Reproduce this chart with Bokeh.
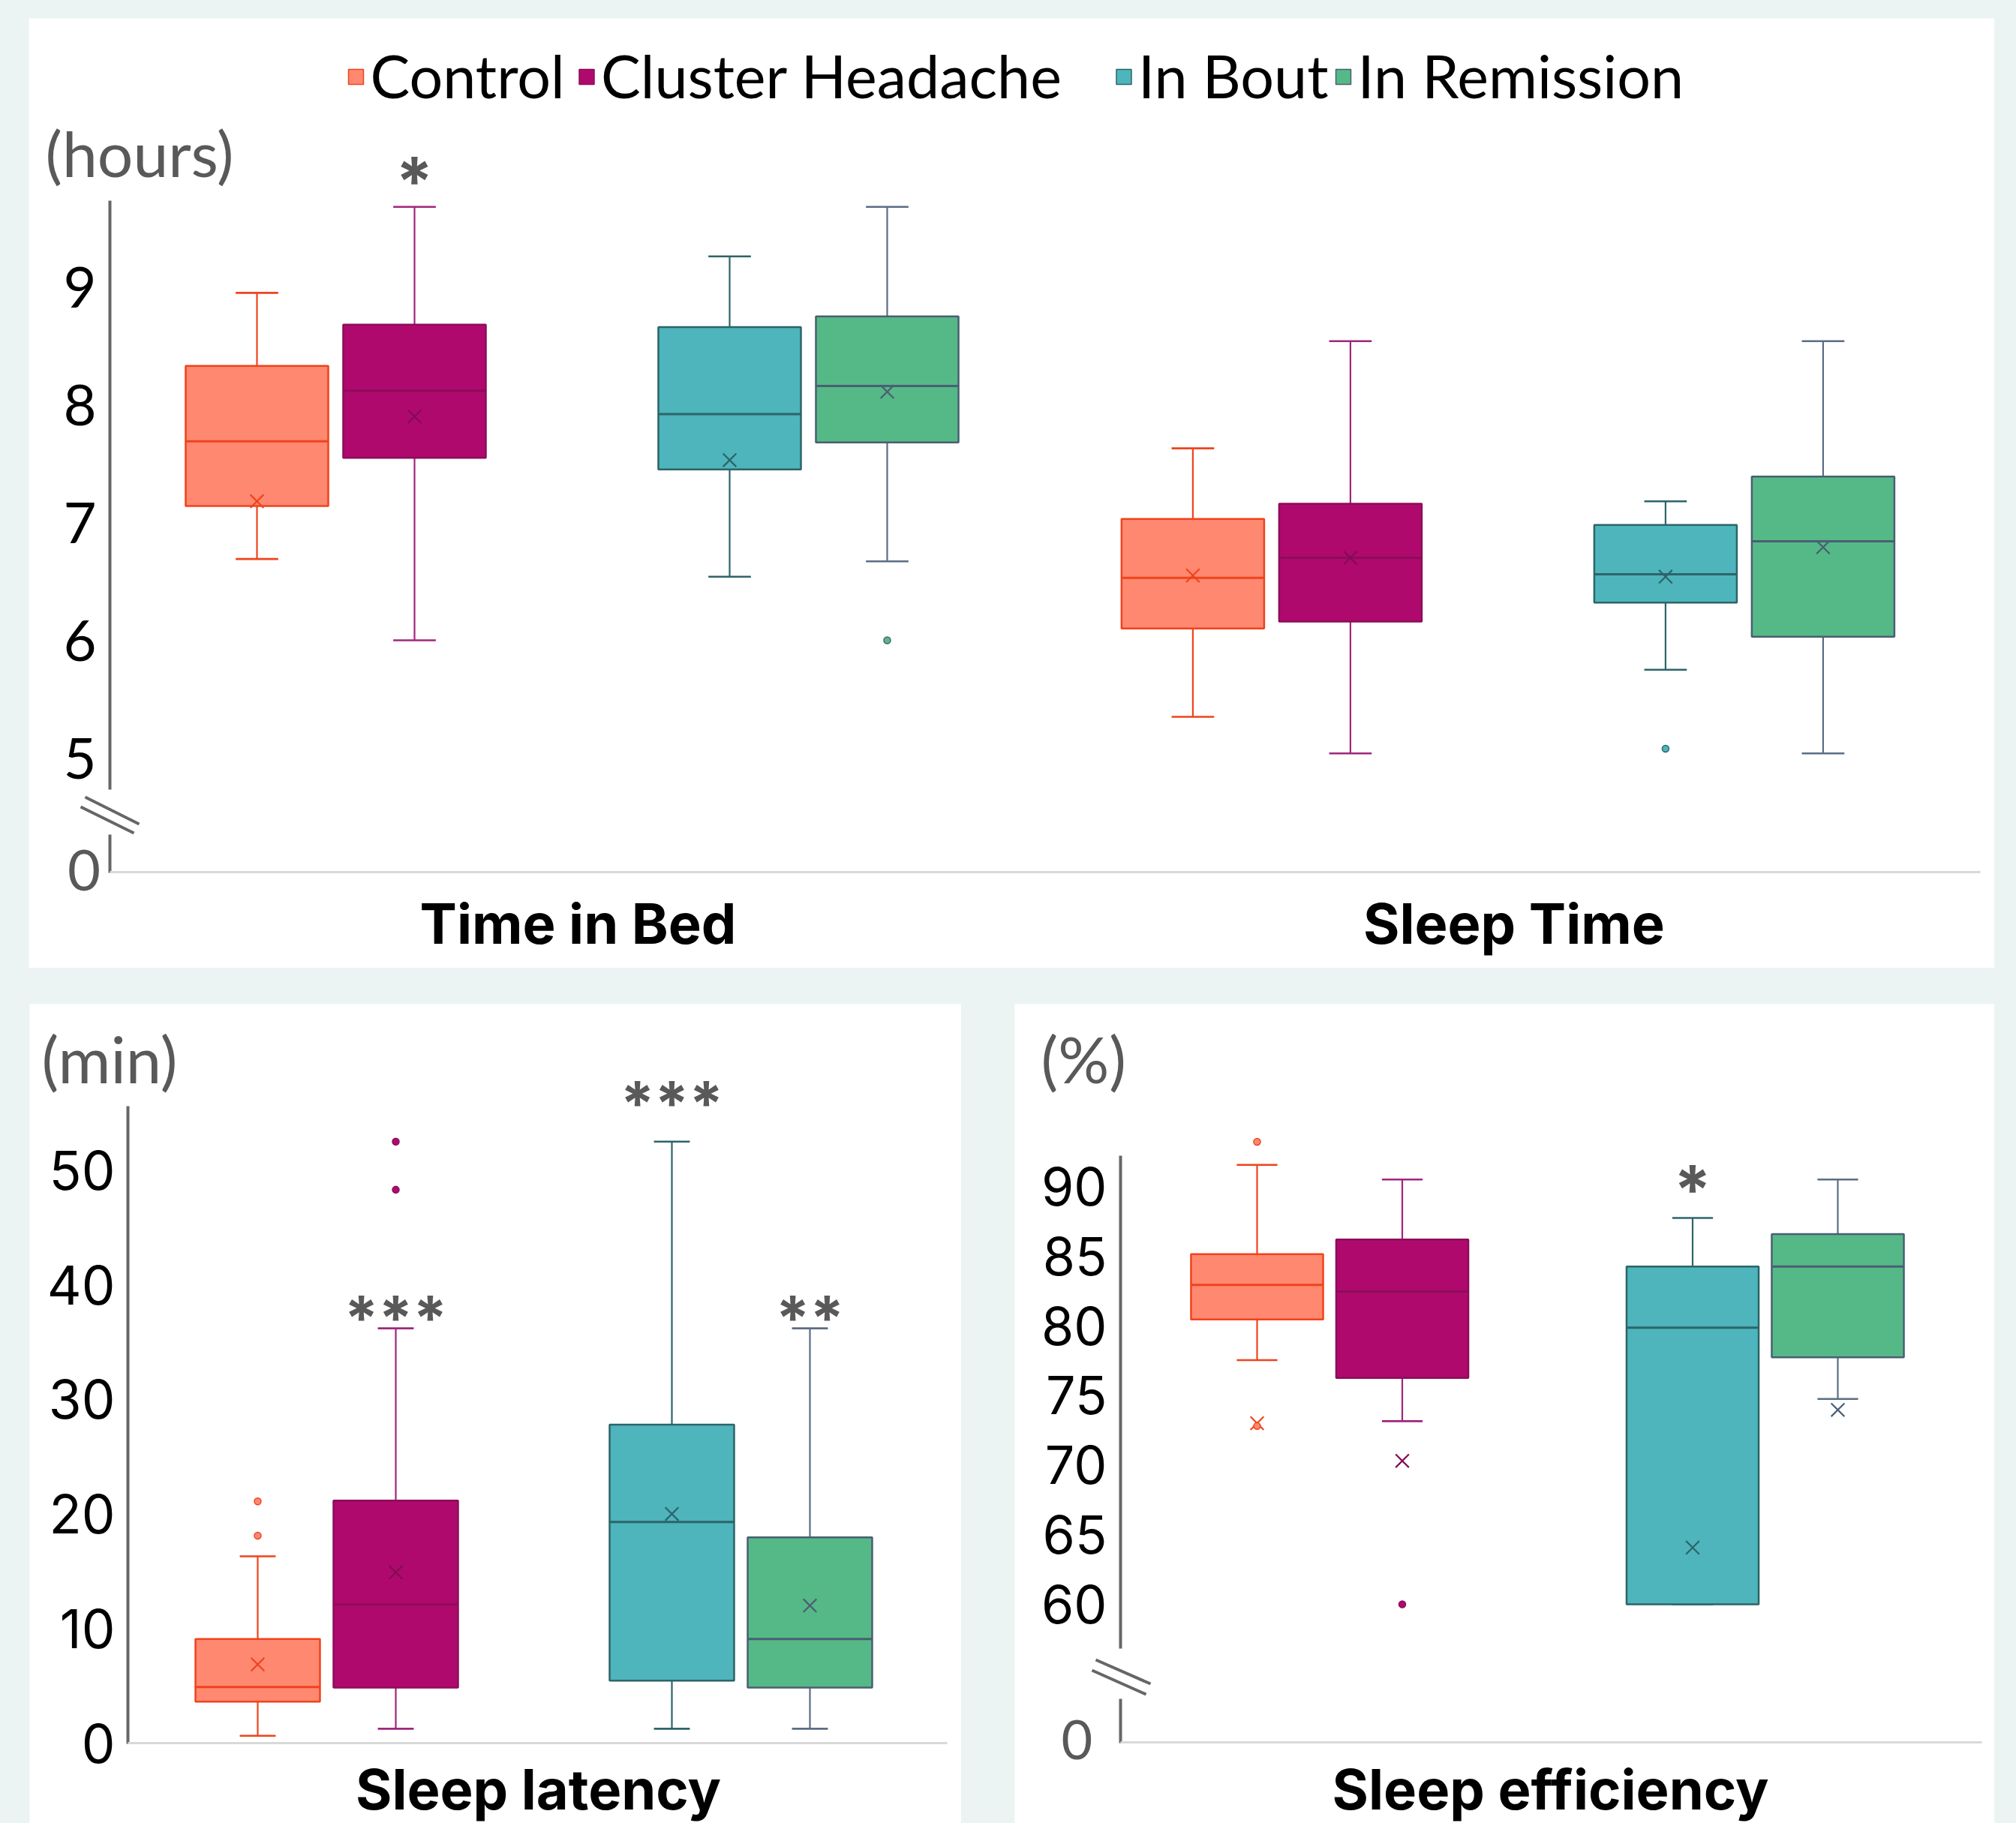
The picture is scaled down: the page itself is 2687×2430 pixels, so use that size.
from bokeh.plotting import figure
from bokeh.models import Range1d, ColumnDataSource
from bokeh.layouts import column, row
from bokeh.embed import file_html
from bokeh.resources import INLINE
from bokeh.core.properties import value

# ---------------- data ----------------
series = ["Control", "Cluster Headache", "In Bout", "In Remission"]
top_metrics = ["Time in Bed", "Sleep Time"]

tib_low  = [6.69, 6.00, 6.54, 6.67]
tib_q1   = [7.14, 7.55, 7.45, 7.68]
tib_med  = [7.69, 8.12, 7.92, 8.16]
tib_q3   = [8.33, 8.68, 8.66, 8.75]
tib_high = [8.95, 9.68, 9.26, 9.68]
tib_mean = [7.18, 7.90, 7.53, 8.11]
tib_out_series = ["In Remission"]
tib_out_vals   = [6.00]

st_low  = [5.35, 5.04, 5.75, 5.04]
st_q1   = [6.10, 6.16, 6.32, 6.03]
st_med  = [6.53, 6.70, 6.56, 6.84]
st_q3   = [7.03, 7.16, 6.98, 7.39]
st_high = [7.63, 8.54, 7.18, 8.54]
st_mean = [6.55, 6.70, 6.54, 6.79]
st_out_series = ["In Bout"]
st_out_vals   = [5.08]

sl_low  = [0.64, 1.25, 1.25, 1.25]
sl_q1   = [3.61, 4.85, 5.45, 4.85]
sl_med  = [4.89, 12.1, 19.3, 9.08]
sl_q3   = [9.08, 21.17, 27.8, 17.96]
sl_high = [16.3, 36.2, 52.5, 36.2]
sl_mean = [6.87, 14.9, 20.0, 12.0]
sl_out_series = ["Control", "Control", "Cluster Headache", "Cluster Headache"]
sl_out_vals   = [18.1, 21.1, 48.3, 52.5]

se_low  = [77.53, 73.15, 60.0, 74.74]
se_q1   = [80.45, 76.25, 60.0, 77.73]
se_med  = [82.93, 82.46, 79.86, 84.25]
se_q3   = [85.14, 86.19, 84.25, 86.58]
se_high = [91.55, 90.5, 87.74, 90.5]
se_mean = [73.0, 70.3, 64.07, 73.96]
se_out_series = ["Control", "Control", "Cluster Headache"]
se_out_vals   = [93.2, 72.8, 60.0]

hours_ticks = [5, 6, 7, 8, 9]
min_ticks = [0, 10, 20, 30, 40, 50]
pct_ticks = [60, 65, 70, 75, 80, 85, 90]

# significance markers: (metric index, series, text, y-value of mark centre)
tib_sig = [(0, "Cluster Headache", "*", 10.01)]
sl_sig = [(0, "Cluster Headache", "***", 38.1), (0, "In Bout", "***", 56.8), (0, "In Remission", "**", 38.1)]
se_sig = [(0, "In Bout", "*", 90.7)]

# ---------------- styles ----------------
FILLS = ["#FF8870", "#B0096E", "#4DB5BB", "#55B987"]
EDGES = ["#F0431C", "#8C0D5A", "#2D6468", "#4A5F73"]
WHISK = ["#F0431C", "#A0267E", "#2D6468", "#5C6D84"]
MEANC = ["#F0431C", "#820C55", "#2D6468", "#4A5F73"]
SLOTS = [0, 1, 3, 4]
GRAY = "#595959"
AXC = "#666666"
BASEC = "#D9D9D9"
BG = "#EBF4F2"
REG = "Lato"
BOLD = "Inter"


def make_panel(ox, oy, W, H, slot, cx0, ppu, vref, yref):
    xr = Range1d((ox - cx0) / slot, (ox + W - cx0) / slot)
    yr = Range1d(vref - (oy + H - yref) / ppu, vref + (yref - oy) / ppu)
    p = figure(width=W, height=H, x_range=xr, y_range=yr, output_backend="svg", title=None,
               toolbar_location=None, x_axis_location=None, y_axis_location=None,
               min_border_left=0, min_border_right=0, min_border_top=0, min_border_bottom=0,
               outline_line_color=None, background_fill_color="white", border_fill_color="white")
    p.xgrid.visible = False
    p.ygrid.visible = False
    X = lambda fx: (fx - cx0) / slot
    Y = lambda fy: vref + (yref - fy) / ppu
    return p, X, Y


def txt(p, xs, ys, texts, font, size, color, align="left", style="normal"):
    p.text(x=xs, y=ys, text=texts, text_font=value(font), text_font_size=value(f"{size}px"),
           text_font_style=value(style), text_color=value(color), text_align=value(align),
           text_baseline=value("middle"))


def seg(p, x0, y0, x1, y1, color, width):
    p.segment(x0=x0, y0=y0, x1=x1, y1=y1, line_color=color, line_width=width)


def draw_boxes(p, base, low, q1, med, q3, high, mean, out_series, out_vals, bw, cw):
    xs = [base + s for s in SLOTS]
    src = ColumnDataSource(dict(
        x=xs, low=low, q1=q1, med=med, q3=q3, high=high, mean=mean,
        l=[x - bw / 2 for x in xs], r=[x + bw / 2 for x in xs],
        cl=[x - cw / 2 for x in xs], cr=[x + cw / 2 for x in xs],
        fill=FILLS, edge=EDGES, wk=WHISK, mc=MEANC))
    p.segment(x0="x", y0="q3", x1="x", y1="high", source=src, line_color="wk", line_width=2.2)
    p.segment(x0="x", y0="low", x1="x", y1="q1", source=src, line_color="wk", line_width=2.2)
    p.segment(x0="cl", y0="high", x1="cr", y1="high", source=src, line_color="wk", line_width=2.6)
    p.segment(x0="cl", y0="low", x1="cr", y1="low", source=src, line_color="wk", line_width=2.6)
    p.quad(left="l", right="r", bottom="q1", top="q3", source=src,
           fill_color="fill", line_color="edge", line_width=2.5)
    p.segment(x0="l", y0="med", x1="r", y1="med", source=src, line_color="edge", line_width=3)
    p.scatter(x="x", y="mean", source=src, marker="x", size=25, line_color="mc", line_width=2.2)
    idx = [series.index(s) for s in out_series]
    p.scatter(x=[xs[i] for i in idx], y=out_vals, marker="circle", size=9,
              fill_color=[FILLS[i] for i in idx], line_color=[EDGES[i] for i in idx], line_width=1.5)
    return xs


def sig_marks(p, Y, marks, group_step, size):
    px = Y(0) - Y(1)  # value units per pixel
    for (m, s, t, yv) in marks:
        x = m * group_step + SLOTS[series.index(s)]
        y = yv - 0.19 * size * px   # glyph sits above the em middle
        txt(p, [x], [y], [t], BOLD, size, GRAY, align="center", style="bold")


# ================= TOP PANEL =================
T_OX, T_OY, T_W, T_H = 38, 24, 2620, 1266
T_SLOT, T_PPU = 210, 157.0
T_STEP = 5.94
top, X, Y = make_panel(T_OX, T_OY, T_W, T_H, T_SLOT, 342, T_PPU, 5, 1010)

ax = X(146)
seg(top, [ax], [Y(267)], [ax], [Y(1052)], AXC, 4)
seg(top, [ax], [Y(1112)], [ax], [Y(1163)], AXC, 4)
seg(top, [X(113), X(107)], [Y(1062), Y(1075)], [X(185), X(178)], [Y(1098), Y(1110)], AXC, 4)
seg(top, [ax], [Y(1162)], [X(2639)], [Y(1162)], BASEC, 3)

draw_boxes(top, 0, tib_low, tib_q1, tib_med, tib_q3, tib_high, tib_mean,
           tib_out_series, tib_out_vals, 0.905, 0.27)
draw_boxes(top, T_STEP, st_low, st_q1, st_med, st_q3, st_high, st_mean,
           st_out_series, st_out_vals, 0.905, 0.27)

txt(top, [X(128)] * len(hours_ticks), hours_ticks,
    [str(t) for t in hours_ticks], REG, 76, "#000000", align="right")
txt(top, [X(111.5)], [Y(1159)], ["0"], REG, 76, GRAY, align="center")
txt(top, [X(60)], [Y(203)], ["(hours)"], REG, 84, GRAY)

txt(top, [m * T_STEP + 2.0 + 8 / T_SLOT for m in range(len(top_metrics))], [Y(1230)] * 2, top_metrics,
    BOLD, 74, "#000000", align="center", style="bold")

sig_marks(top, Y, tib_sig, T_STEP, 90)

leg_sq = [474, 781.5, 1497.5, 1790]
top.scatter(x=[X(v) for v in leg_sq], y=[Y(102)] * 4, marker="square", size=20,
            fill_color=FILLS, line_color=EDGES, line_width=1.5)
txt(top, [X(v + 19) for v in leg_sq], [Y(100)] * 4, series, REG, 79, "#000000")

# ================= BOTTOM LEFT =================
L_OX, L_OY, L_W, L_H = 39, 1338, 1242, 1092
L_PPU = 15.272
bl, X, Y = make_panel(L_OX, L_OY, L_W, L_H, 184, 343, L_PPU, 0, 2323)
ax = X(170)
seg(bl, [ax], [Y(1474)], [ax], [Y(2324)], AXC, 4)
seg(bl, [ax], [Y(2323)], [X(1262)], [Y(2323)], BASEC, 3)
draw_boxes(bl, 0, sl_low, sl_q1, sl_med, sl_q3, sl_high, sl_mean,
           sl_out_series, sl_out_vals, 0.902, 0.26)
txt(bl, [X(153)] * len(min_ticks), min_ticks,
    [str(t) for t in min_ticks], BOLD, 71, "#000000", align="right")
txt(bl, [X(55)], [Y(1410)], ["(min)"], REG, 85, GRAY)
txt(bl, [2.0 + 6 / 184], [Y(2384)], ["Sleep latency"], BOLD, 74, "#000000", align="center", style="bold")
sig_marks(bl, Y, sl_sig, 0, 82)

# ================= BOTTOM RIGHT =================
R_OX, R_OY, R_W, R_H = 1352, 1338, 1306, 1092
R_PPU = 18.567
br, X, Y = make_panel(R_OX, R_OY, R_W, R_H, 193.5, 1675, R_PPU, 60, 2138)
ax = X(1493)
seg(br, [ax], [Y(1540)], [ax], [Y(2197)], AXC, 4)
seg(br, [ax], [Y(2264)], [ax], [Y(2323)], AXC, 4)
seg(br, [X(1460), X(1455)], [Y(2212), Y(2226)], [X(1533), X(1527)], [Y(2244), Y(2258)], AXC, 4)
seg(br, [ax], [Y(2322)], [X(2641)], [Y(2322)], BASEC, 3)
draw_boxes(br, 0, se_low, se_q1, se_med, se_q3, se_high, se_mean,
           se_out_series, se_out_vals, 0.91, 0.28)
txt(br, [X(1475)] * len(pct_ticks), pct_ticks,
    [str(t) for t in pct_ticks], BOLD, 70, "#000000", align="right")
txt(br, [X(1435)], [Y(2318)], ["0"], REG, 72, GRAY, align="center")
txt(br, [X(1387)], [Y(1410)], ["(%)"], REG, 85, GRAY)
txt(br, [2.0 + 4 / 193.5], [Y(2384)], ["Sleep efficiency"], BOLD, 74, "#000000", align="center", style="bold")
sig_marks(br, Y, se_sig, 0, 90)

# ================= LAYOUT =================
top.margin = (24, 0, 0, 38)
bl.margin = (48, 0, 0, 39)
br.margin = (48, 0, 0, 71)
layout = column(top, row(bl, br), styles={"background-color": BG})

html = file_html(layout, INLINE, title="Sleep measures")
html = html.replace("</head>", "<style>html, body { background-color: %s !important; }</style></head>" % BG, 1)
open("out.html", "w").write(html)
